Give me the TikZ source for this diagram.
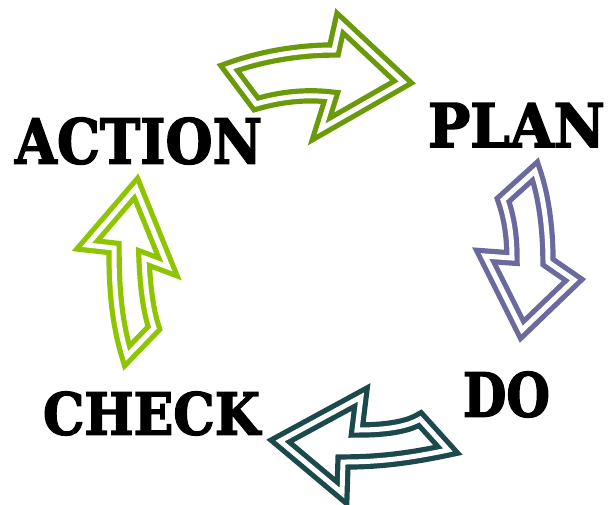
\documentclass[tikz,border=0pt]{standalone}
\usepackage{fontspec}
\setmainfont{DejaVu Serif}
\newfontfamily\heavyfont{DejaVu Serif}[BoldFeatures={FakeBold=2.5}]
\usepackage{graphicx}
\definecolor{cTop}{HTML}{6A9A0A}
\definecolor{cRight}{HTML}{6A6A9E}
\definecolor{cBot}{HTML}{1C4A4C}
\definecolor{cLeft}{HTML}{8FC400}
\begin{document}
\begin{tikzpicture}[x=1pt,y=-1pt,
  blockarrow/.style={draw=#1,line width=5.2pt,double=white,double distance=5pt,line join=miter,miter limit=10},
  word/.style={inner sep=0pt,anchor=center,font=\heavyfont\bfseries}]
\useasboundingbox (0,0) rectangle (609,504);
% words
\node[word] (action) at (138.5,141) {\resizebox{247pt}{46pt}{ACTION}};
\node[word] (plan) at (516.5,125) {\resizebox{177pt}{44pt}{PLAN}};
\node[word] (do) at (506.5,394.5) {\resizebox{87pt}{45pt}{DO}};
\node[word] (check) at (151.5,413.5) {\resizebox{217pt}{43pt}{CHECK}};
% top arrow
\draw[blockarrow=cTop] (229,68) .. controls (262,56) and (300,50) .. (334,50)
  -- (340,23) -- (403,82) -- (321,129) -- (331,97)
  .. controls (305,94) and (280,97) .. (256,104) -- cycle;
% right arrow
\draw[blockarrow=cRight] (535,171) .. controls (545,200) and (548,235) .. (548,262)
  -- (574,280) -- (522,330) -- (485,256) -- (512,258)
  .. controls (512,240) and (510,220) .. (503,200) -- cycle;
% bottom arrow
\draw[blockarrow=cBot] (448,450) .. controls (410,458) and (380,462) .. (343,462)
  -- (342,493) -- (280,441) -- (361,397) -- (357,430)
  .. controls (380,430) and (405,428) .. (420,419) -- cycle;
% left arrow
\draw[blockarrow=cLeft] (127,356) .. controls (116,320) and (114,285) .. (114,248)
  -- (87,245) -- (136,188) -- (168,267) -- (144,258)
  .. controls (145,285) and (148,310) .. (154,328) -- cycle;
\end{tikzpicture}
\end{document}
